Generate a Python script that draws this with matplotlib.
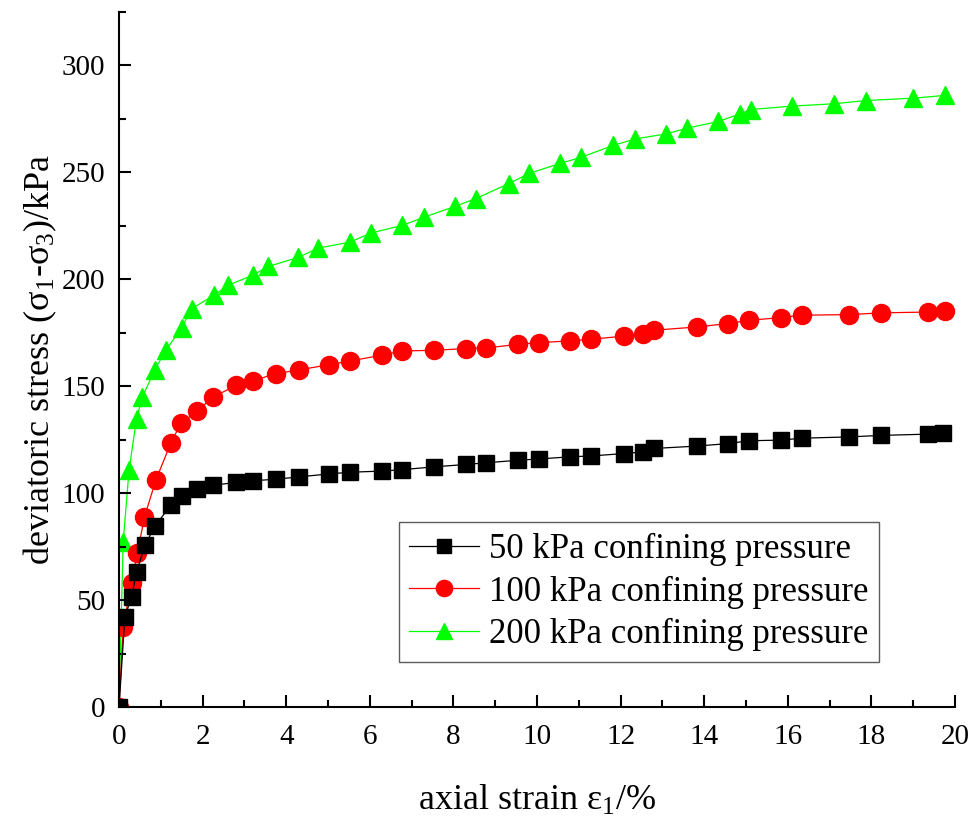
import matplotlib
matplotlib.use("Agg")
import matplotlib.pyplot as plt
from matplotlib.ticker import MultipleLocator

plt.rcParams['font.family'] = ['Liberation Serif', 'DejaVu Serif']
plt.rcParams['mathtext.fontset'] = 'custom'
plt.rcParams['mathtext.rm'] = 'Liberation Serif'
plt.rcParams['mathtext.it'] = 'Liberation Serif:italic'

# 50 kPa confining pressure
x50 = [0, 0.14, 0.30, 0.42, 0.62, 0.86, 1.24, 1.50, 1.87, 2.24, 2.81, 3.20, 3.75, 4.30,
       5.03, 5.53, 6.28, 6.78, 7.54, 8.29, 8.79, 9.55, 10.05, 10.80, 11.30, 12.07, 12.54,
       12.80, 13.82, 14.58, 15.07, 15.83, 16.33, 17.47, 18.22, 19.36, 19.72]
y50 = [0, 42, 51.5, 63.2, 75.7, 84.6, 94.4, 98.6, 101.9, 103.7, 105.0, 105.8, 106.5, 107.6,
       109.0, 109.8, 110.3, 111.0, 112.3, 113.4, 114.2, 115.4, 116.0, 117.0, 117.4, 118.5, 119.3,
       120.9, 122.0, 123.2, 124.5, 124.8, 125.7, 126.3, 127.0, 127.6, 127.9]

# 100 kPa confining pressure
x100 = [0, 0.10, 0.30, 0.44, 0.61, 0.88, 1.24, 1.48, 1.87, 2.26, 2.81, 3.20, 3.75, 4.30,
        5.03, 5.53, 6.28, 6.78, 7.54, 8.29, 8.79, 9.55, 10.05, 10.80, 11.30, 12.07, 12.54,
        12.80, 13.82, 14.56, 15.07, 15.83, 16.33, 17.47, 18.22, 19.36, 19.76]
y100 = [0, 37.5, 57.8, 72.1, 88.9, 106.0, 123.5, 132.6, 138.5, 145.0, 150.5, 152.5, 155.9, 157.6,
        160.1, 161.8, 164.5, 166.5, 166.8, 167.6, 167.9, 169.6, 170.4, 171.2, 172.0, 173.4, 174.4,
        176.2, 177.7, 179.3, 180.8, 182.1, 183.2, 183.5, 184.3, 184.7, 185.2]

# 200 kPa confining pressure
x200 = [0, 0.10, 0.24, 0.42, 0.56, 0.86, 1.12, 1.50, 1.74, 2.27, 2.61, 3.20, 3.57, 4.28,
        4.77, 5.53, 6.02, 6.78, 7.30, 8.04, 8.53, 9.32, 9.81, 10.55, 11.05, 11.82, 12.34,
        13.09, 13.60, 14.34, 14.86, 15.11, 16.11, 17.11, 17.87, 19.00, 19.76]
y200 = [0, 77.2, 110.7, 134.9, 145.0, 157.8, 166.8, 177.4, 186.3, 192.5, 197.2, 201.9, 206.0, 210.2,
        214.6, 217.4, 221.6, 225.2, 229.1, 234.1, 237.7, 244.7, 249.5, 254.2, 257.0, 262.6, 265.6,
        268.0, 270.7, 273.8, 277.4, 279.4, 281.0, 282.1, 283.6, 284.7, 286.0]

labels = ['50 kPa confining pressure', '100 kPa confining pressure', '200 kPa confining pressure']

fig = plt.figure(figsize=(9.79, 8.18), dpi=100)
ax = fig.add_axes([119/979, 1-707/818, (955-119)/979, (707-12)/818])

ax.plot(x50, y50, color='black', lw=0.9, marker='s', ms=11, mec='black', mfc='black', label=labels[0], zorder=3)
ax.plot(x100, y100, color='#ff0000', lw=0.9, marker='o', ms=13, mec='#ff0000', mfc='#ff0000', label=labels[1], zorder=2)
ax.plot(x200, y200, color='#00ff00', lw=0.9, marker='^', ms=13, mec='#00ff00', mfc='#00ff00', label=labels[2], zorder=1)

ax.set_xlim(0, 20)
ax.set_ylim(0, 325)
ax.xaxis.set_major_locator(MultipleLocator(2))
ax.xaxis.set_minor_locator(MultipleLocator(1))
ax.yaxis.set_minor_locator(MultipleLocator(25))
ax.set_yticks([0, 50, 100, 150, 200, 250, 300])

for side in ['top', 'right']:
    ax.spines[side].set_visible(False)
for side in ['left', 'bottom']:
    ax.spines[side].set_linewidth(1.5)

ax.tick_params(which='major', direction='in', length=8.5, width=1.5, labelsize=21)
ax.tick_params(axis='x', which='major', pad=12.5)
ax.tick_params(axis='y', which='major', pad=10)
ax.tick_params(which='minor', direction='in', length=5, width=1.5)

ax.set_xlabel('axial strain ε$_1$/%', fontsize=26, labelpad=24)
ax.set_ylabel('deviatoric stress (σ$_1$-σ$_3$)/kPa', fontsize=26, labelpad=2)

leg = ax.legend(loc='lower right', bbox_to_anchor=(0.909, 0.065), borderaxespad=0, fontsize=25,
                frameon=True, fancybox=False, edgecolor='#333333', handlelength=2.0,
                handletextpad=0.3, borderpad=0.3, labelspacing=0.28, markerscale=0.9)
leg.get_frame().set_linewidth(1.0)

fig.savefig('out.png', dpi=100)
